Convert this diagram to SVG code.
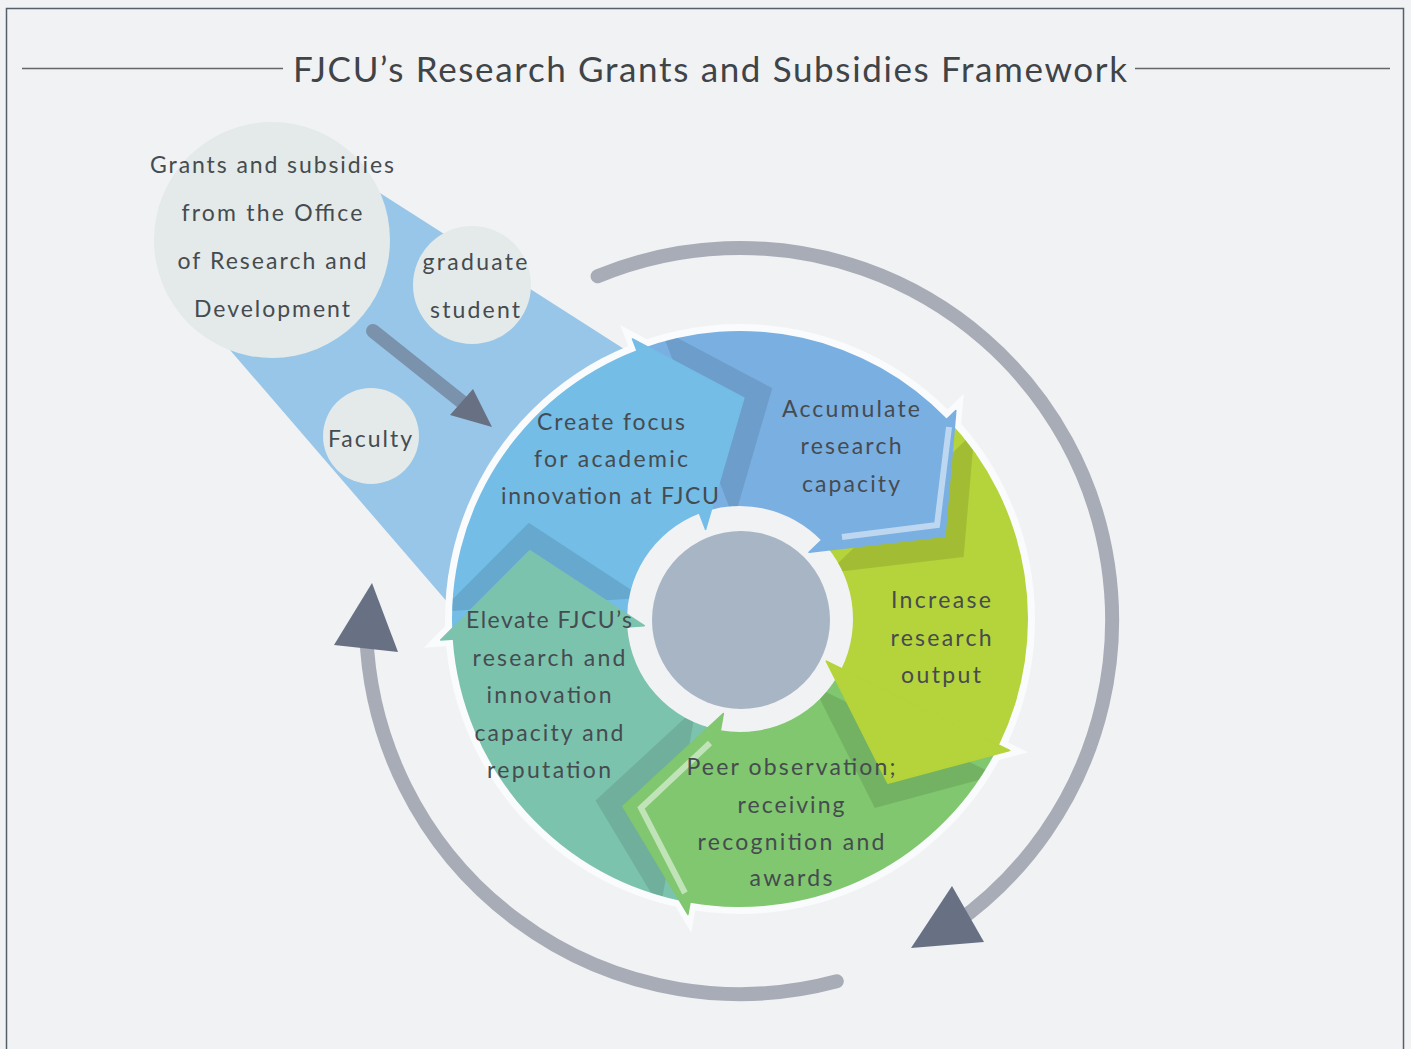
<svg xmlns="http://www.w3.org/2000/svg" width="1411" height="1049" viewBox="0 0 1411 1049">
  <style>
    .t { font-family: Lato, "Liberation Sans", sans-serif; font-size: 23px; fill: #464b50; text-anchor: middle; }
    .title { font-size: 35px; fill: #3f4448; }
    .bubble { fill: #e3eae9; }
    .arc { fill: none; stroke: #a8acb7; stroke-width: 14; stroke-linecap: round; }
    .ahead { fill: #687184; }
    .shadow { fill: #000; opacity: 0.1; }
    .head { stroke-width: 1.5; stroke-linejoin: round; }
    .hl { fill: none; stroke: #fff; stroke-opacity: 0.5; stroke-width: 6; stroke-linejoin: miter; }
    .under { fill: #fafbfc; stroke: #fafbfc; stroke-width: 13; stroke-linejoin: miter; stroke-miterlimit: 20; }
  </style>
  <defs>
    <clipPath id="outside200">
      <path clip-rule="evenodd" d="M0 0H1411V1049H0Z M940 619A200 200 0 1 0 540 619A200 200 0 1 0 940 619Z"/>
    </clipPath>
    <clipPath id="ring">
      <path clip-rule="evenodd" d="M1028 619A288 288 0 1 0 452 619A288 288 0 1 0 1028 619Z M853 619A113 113 0 1 0 627 619A113 113 0 1 0 853 619Z"/>
    </clipPath>
  </defs>

  <rect x="0" y="0" width="1411" height="1049" fill="#f1f2f4"/>
  <path d="M6.5 1049V8.5H1403.5V1049" fill="none" stroke="#56606b" stroke-width="1.5"/>

  <g id="title">
    <line x1="22" y1="68.5" x2="283" y2="68.5" stroke="#666" stroke-width="1.3"/>
    <line x1="1135" y1="68.5" x2="1390" y2="68.5" stroke="#666" stroke-width="1.3"/>
    <text class="t title" x="710" y="82" textLength="834" lengthAdjust="spacing">FJCU’s Research Grants and Subsidies Framework</text>
  </g>

  <g id="flow-band">
    <polygon points="380,193 660,372 480,640 230,350" fill="#98c6e8"/>
  </g>

  <g id="ring-outline" clip-path="url(#outside200)">
    <circle cx="740" cy="619" r="295" fill="#fafbfc"/>
    <polygon class="under" points="632.49,338.93 743.86,398.03 705.60,529.38"/>
    <polygon class="under" points="955.80,410.60 944.91,536.21 809.06,552.31"/>
    <polygon class="under" points="1009.64,750.51 887.88,783.23 826.28,661.08"/>
    <polygon class="under" points="687.90,914.44 622.89,806.42 723.33,713.54"/>
    <polygon class="under" points="440.73,639.93 529.82,550.71 644.23,625.70"/>
  </g>

  <g id="segment-bodies">
    <path fill="#73bde6" d="M452.70 639.09A288 288 0 0 1 636.79 350.13L699.50 513.51A113 113 0 0 0 627.28 626.88Z"/>
    <path fill="#7aafe2" d="M636.79 350.13A288 288 0 0 1 947.17 418.94L821.29 540.50A113 113 0 0 0 699.50 513.51Z"/>
    <path fill="#b5d33a" d="M947.17 418.94A288 288 0 0 1 998.85 745.25L841.56 668.54A113 113 0 0 0 821.29 540.50Z"/>
    <path fill="#80c76f" d="M998.85 745.25A288 288 0 0 1 689.99 902.63L720.38 730.28A113 113 0 0 0 841.56 668.54Z"/>
    <path fill="#7cc3ae" d="M689.99 902.63A288 288 0 0 1 452.70 639.09L627.28 626.88A113 113 0 0 0 720.38 730.28Z"/>
  </g>

  <g id="segment-shadows" clip-path="url(#ring)">
    <polygon class="shadow" transform="translate(28.4,-9.8)" points="632.49,338.93 743.86,398.03 705.60,529.38"/>
    <polygon class="shadow" transform="translate(18.7,20.8)" points="955.80,410.60 944.91,536.21 809.06,552.31"/>
    <polygon class="shadow" transform="translate(-13.1,24.7)" points="1009.64,750.51 887.88,783.23 826.28,661.08"/>
    <polygon class="shadow" transform="translate(-27.4,-5.8)" points="687.90,914.44 622.89,806.42 723.33,713.54"/>
    <polygon class="shadow" transform="translate(-1,-28)" points="440.73,639.93 529.82,550.71 644.23,625.70"/>
  </g>

  <g id="node-create">
    <polygon class="head" fill="#73bde6" stroke="#73bde6" points="632.49,338.93 743.86,398.03 705.60,529.38"/>
    <text class="t" x="611" y="430" textLength="148" lengthAdjust="spacing">Create focus</text>
    <text class="t" x="611" y="467" textLength="154" lengthAdjust="spacing">for academic</text>
    <text class="t" x="610" y="504" textLength="218" lengthAdjust="spacing">innovation at FJCU</text>
  </g>

  <g id="node-accumulate">
    <polygon class="head" fill="#7aafe2" stroke="#7aafe2" points="955.80,410.60 944.91,536.21 809.06,552.31"/>
    <polyline class="hl" points="949,427 937,525 842,537"/>
    <text class="t" x="851" y="417" textLength="138" lengthAdjust="spacing">Accumulate</text>
    <text class="t" x="851" y="454" textLength="101" lengthAdjust="spacing">research</text>
    <text class="t" x="851" y="492" textLength="98" lengthAdjust="spacing">capacity</text>
  </g>

  <g id="node-increase">
    <polygon class="head" fill="#b5d33a" stroke="#b5d33a" points="1009.64,750.51 887.88,783.23 826.28,661.08"/>
    <text class="t" x="941" y="608" textLength="100" lengthAdjust="spacing">Increase</text>
    <text class="t" x="941" y="646" textLength="101" lengthAdjust="spacing">research</text>
    <text class="t" x="941" y="683" textLength="80" lengthAdjust="spacing">output</text>
  </g>

  <g id="node-peer">
    <polygon class="head" fill="#80c76f" stroke="#80c76f" points="687.90,914.44 622.89,806.42 723.33,713.54"/>
    <polyline class="hl" points="685,893 641,808 710,743"/>
    <text class="t" x="791" y="775" textLength="209" lengthAdjust="spacing">Peer observation;</text>
    <text class="t" x="791" y="813" textLength="107" lengthAdjust="spacing">receiving</text>
    <text class="t" x="791" y="850" textLength="187" lengthAdjust="spacing">recognition and</text>
    <text class="t" x="791" y="886" textLength="83" lengthAdjust="spacing">awards</text>
  </g>

  <g id="node-elevate">
    <polygon class="head" fill="#7cc3ae" stroke="#7cc3ae" points="440.73,639.93 529.82,550.71 644.23,625.70"/>
    <text class="t" x="549" y="628" textLength="166" lengthAdjust="spacing">Elevate FJCU’s</text>
    <text class="t" x="549" y="666" textLength="153" lengthAdjust="spacing">research and</text>
    <text class="t" x="549" y="703" textLength="125" lengthAdjust="spacing">innovation</text>
    <text class="t" x="549" y="741" textLength="149" lengthAdjust="spacing">capacity and</text>
    <text class="t" x="549" y="778" textLength="124" lengthAdjust="spacing">reputation</text>
  </g>

  <g id="node-center">
    <circle cx="741" cy="620" r="89" fill="#a7b5c5"/>
  </g>

  <g id="node-grants">
    <circle class="bubble" cx="272" cy="240" r="118"/>
    <text class="t" x="272" y="173" textLength="244" lengthAdjust="spacing">Grants and subsidies</text>
    <text class="t" x="272" y="221" textLength="181" lengthAdjust="spacing">from the Office</text>
    <text class="t" x="272" y="269" textLength="189" lengthAdjust="spacing">of Research and</text>
    <text class="t" x="272" y="317" textLength="156" lengthAdjust="spacing">Development</text>
  </g>

  <g id="node-graduate">
    <circle class="bubble" cx="472" cy="285" r="59"/>
    <text class="t" x="475" y="270" textLength="105" lengthAdjust="spacing">graduate</text>
    <text class="t" x="475" y="318" textLength="90" lengthAdjust="spacing">student</text>
  </g>

  <g id="node-faculty">
    <circle class="bubble" cx="371" cy="436" r="48"/>
    <text class="t" x="370" y="447" textLength="84" lengthAdjust="spacing">Faculty</text>
  </g>

  <g id="connectors">
    <line x1="373" y1="331" x2="462" y2="402" stroke="#7a92ab" stroke-width="14" stroke-linecap="round"/>
    <polygon fill="#687184" points="450,415 492,427 473,389"/>
    <path class="arc" d="M597.6 276.3A372 372 0 0 1 953.4 924.7"/>
    <polygon class="ahead" points="911,948 984,942 952,886"/>
    <path class="arc" d="M836.8 981.3A374 374 0 0 1 366.2 633.1"/>
    <polygon class="ahead" points="334,645 398,652 372,583"/>
  </g>
</svg>
